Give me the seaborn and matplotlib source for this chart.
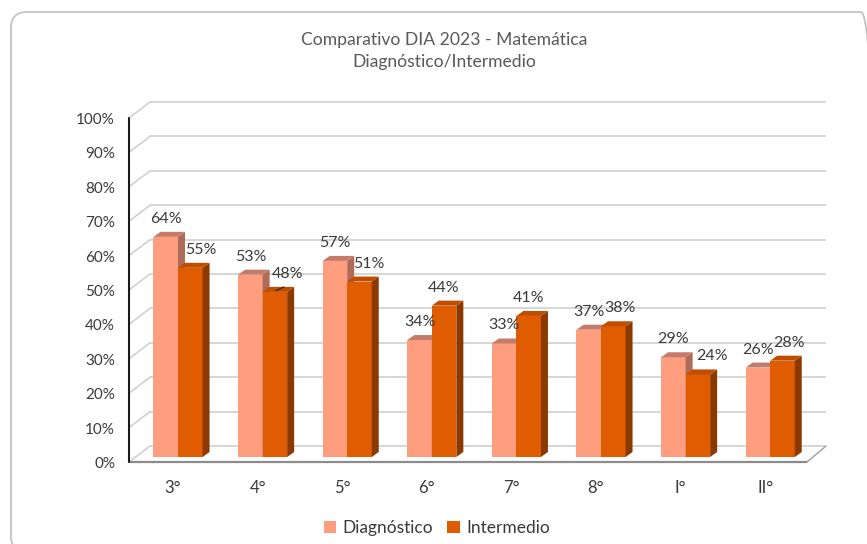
import matplotlib
matplotlib.use("Agg")
import matplotlib.pyplot as plt
import pandas as pd
import seaborn as sns
from matplotlib.patches import Polygon, FancyBboxPatch, Patch
from matplotlib.transforms import IdentityTransform

# ---- data -------------------------------------------------------------
grados = ["3°", "4°", "5°", "6°", "7°", "8°", "I°", "II°"]
diagnostico = [64, 53, 57, 34, 33, 37, 29, 26]
intermedio = [55, 48, 51, 44, 41, 38, 24, 28]
series = ["Diagnóstico", "Intermedio"]
y_ticks = [0, 10, 20, 30, 40, 50, 60, 70, 80, 90, 100]
title_lines = ["Comparativo DIA 2023 - Matemática", "Diagnóstico/Intermedio"]

# ---- styling ----------------------------------------------------------
W, H, DPI = 867, 544, 100
C_DIAG, C_DIAG_TOP, C_DIAG_SIDE = "#FF9E7F", "#C47C6A", "#B06A58"
C_INT, C_INT_TOP, C_INT_SIDE = "#E05C00", "#C04D00", "#8A3900"
GRID = "#D0D0D0"
TEXT = "#3A3A3A"

# pixel grid of the plotting area (origin top-left)
X_PX0, X_STEP = 178.0, 84.6   # centre of first group, spacing between groups
Y_PX0, Y_STEP = 457.0, 3.44   # bar base row, pixels per percentage point


def xd(px):
    return (px - X_PX0) / X_STEP


def yd(py):
    return (Y_PX0 - py) / Y_STEP


def dx(px):
    return px / X_STEP


def dy(px):
    return px / Y_STEP


# horizontal nudge (px) of the value labels of the second series
label_shift = {"3°": 11, "4°": 13, "5°": 9, "8°": 7, "I°": 14, "II°": 6}
# labels that get a short leader line towards their bar
leader = {"4°"}

sns.set_theme(style="white")
plt.rcParams["font.family"] = ["Lato", "DejaVu Sans"]

fig = plt.figure(figsize=(W / DPI, H / DPI), dpi=DPI)
fig.patch.set_facecolor("white")
ax = fig.add_axes([0, 0, 1, 1])

df = pd.DataFrame({
    "grado": grados * 2,
    "serie": [series[0]] * len(grados) + [series[1]] * len(grados),
    "valor": diagnostico + intermedio,
})
sns.barplot(data=df, x="grado", y="valor", hue="serie", order=grados,
            hue_order=series, palette=[C_DIAG, C_INT], width=0.58,
            saturation=1, linewidth=0, legend=False, ax=ax)

ax.set_xlim(xd(0), xd(W))
ax.set_ylim(yd(H), yd(0))
ax.axis("off")

# ---- 3D box: back wall grid, side wall diagonals, floor ---------------
fx = xd(129)            # front plane left edge
bx0, bx1 = xd(150), xd(826)
front_off, back_off = -dy(5), dy(11)
for v in y_ticks:
    yb = v + back_off
    yf = v + front_off
    ax.plot([bx0, bx1], [yb, yb], color=GRID, lw=1.2, zorder=1,
            solid_capstyle="butt")
    ax.plot([fx, bx0], [yf, yb], color=GRID, lw=1.2, zorder=1)
    ax.text(xd(115), yf - dy(2), f"{v}%", ha="right", va="center",
            fontsize=11, color=TEXT)

# floor outline
fr = xd(807)
ax.plot([fr, bx1], [front_off, back_off], color="#A6A6A6", lw=1.1, zorder=1)
ax.plot([fx, fr], [front_off, front_off], color="#8C8C8C", lw=1.6, zorder=5,
        solid_capstyle="butt")
# value axis on the front plane
ax.plot([fx, fx], [front_off, 100 + front_off], color="#1A1A1A", lw=1.5,
        zorder=5)

# ---- 3D faces of each bar --------------------------------------------
ddx, ddy = dx(7), dy(5)
styles = [(C_DIAG_TOP, C_DIAG_SIDE, 3), (C_INT_TOP, C_INT_SIDE, 4)]
for container, (ctop, cside, z) in zip(ax.containers, styles):
    for bar in container:
        bar.set_zorder(z)
        x0, w, h = bar.get_x(), bar.get_width(), bar.get_height()
        x1 = x0 + w
        top = [(x0, h), (x1, h), (x1 + ddx, h + ddy), (x0 + ddx, h + ddy)]
        side = [(x1, 0), (x1, h), (x1 + ddx, h + ddy), (x1 + ddx, ddy)]
        ax.add_patch(Polygon(side, closed=True, fc=cside, ec="none", zorder=z))
        ax.add_patch(Polygon(top, closed=True, fc=ctop, ec="none", zorder=z))

# ---- value labels ------------------------------------------------------
for k, container in enumerate(ax.containers):
    vals = diagnostico if k == 0 else intermedio
    for g, bar, v in zip(grados, container, vals):
        xc = bar.get_x() + bar.get_width() / 2
        if k == 1:
            xc += dx(label_shift.get(g, 0))
        ax.text(xc, v + dy(18), f"{v}%", ha="center", va="center",
                fontsize=11.5, color=TEXT, zorder=6)
        if k == 1 and g in leader:
            bx = bar.get_x() + bar.get_width() / 2
            ax.plot([bx + dx(1), bx + dx(9)], [v + dy(1), v + dy(5)],
                    color="#262626", lw=0.9, zorder=6)

# category labels on the front plane
for i, g in enumerate(grados):
    ax.text(i - dx(5), yd(488), g, ha="center", va="center", fontsize=12,
            color=TEXT)

# ---- title, legend, frame ----------------------------------------------
fig.text(444 / W, 1 - 40 / H, title_lines[0], ha="center", va="center",
         fontsize=12.6, color="#595959")
fig.text(444 / W, 1 - 62 / H, title_lines[1], ha="center", va="center",
         fontsize=12.6, color="#595959")

handles = [Patch(facecolor=C_DIAG, edgecolor="none"),
           Patch(facecolor=C_INT, edgecolor="none")]
fig.legend(handles, series, loc="center", bbox_to_anchor=(437 / W, 1 - 528 / H),
           ncol=2, frameon=False, handlelength=0.7, handleheight=0.7,
           handletextpad=0.4, columnspacing=0.8, fontsize=12.5,
           labelcolor=TEXT)

fig.add_artist(FancyBboxPatch((11, -8), 866, 540,
                              boxstyle="round,pad=0,rounding_size=16",
                              transform=IdentityTransform(), fill=False,
                              ec="#C4C4C4", lw=1.3))

fig.savefig("out.png", dpi=DPI, facecolor="white")
